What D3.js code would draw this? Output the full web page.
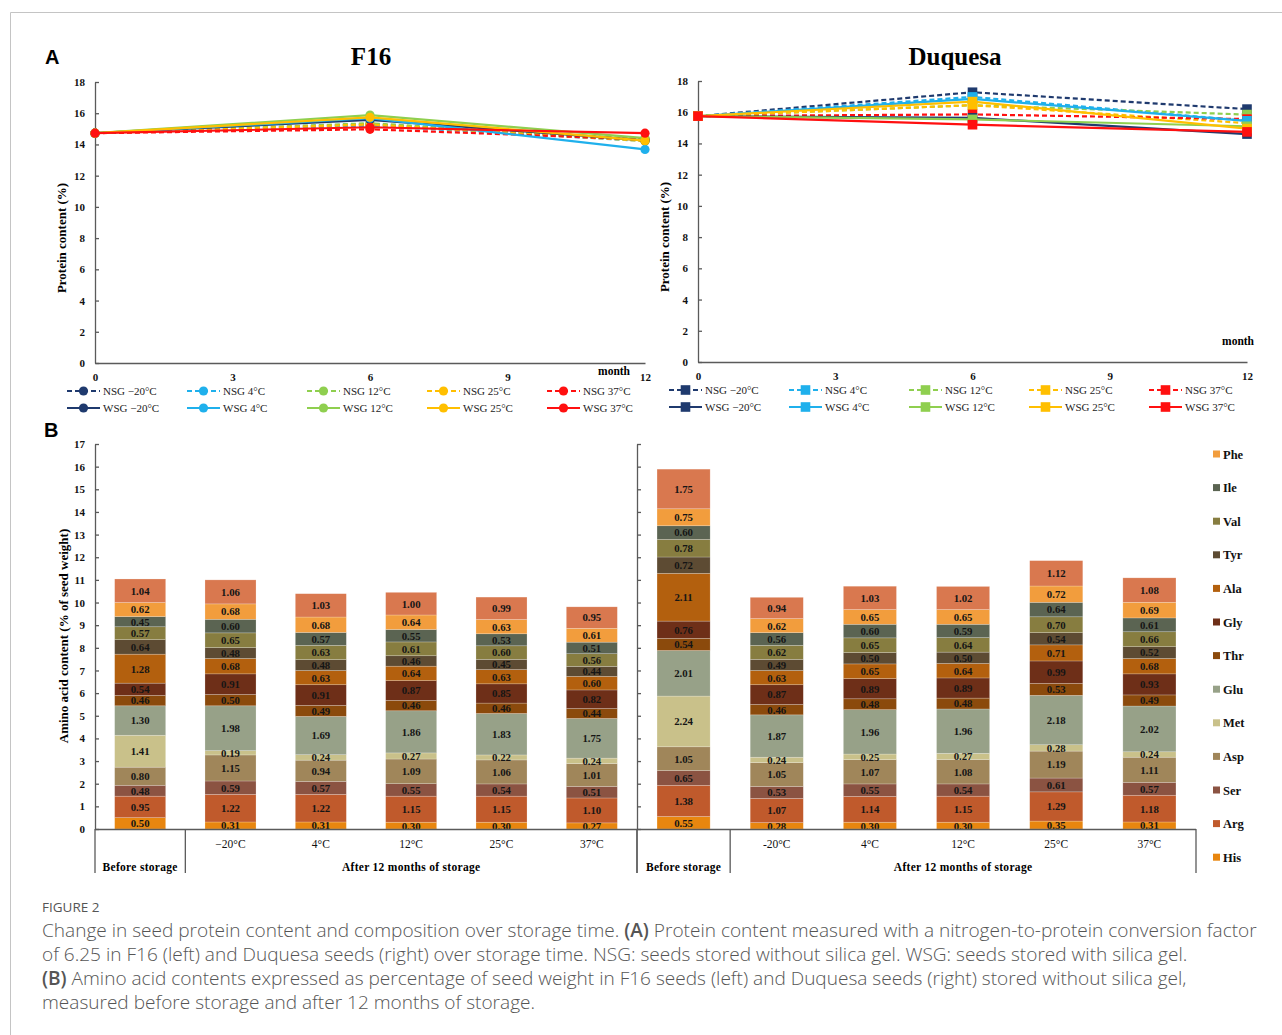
<!DOCTYPE html>
<html>
<head>
<meta charset="utf-8">
<script src="https://cdn.jsdelivr.net/npm/d3@7"></script>
<style>
  body { margin: 0; background: #fff; }
  svg text { font-family: "Liberation Serif", "Times New Roman", serif; }
  .cap { font-family: "Open Sans", "Noto Sans", sans-serif; fill: #555; }
</style>
</head>
<body>
<svg id="fig" width="1282" height="1035"></svg>
<script>
// ---------- Panel A: protein content over storage time ----------
const months = [0, 6, 12];
const monthTicks = [0, 3, 6, 9, 12];
const conditions = ["−20°C", "4°C", "12°C", "25°C", "37°C"];

// F16, rows follow `conditions`, columns follow `months`
const f16Nsg = [
  [14.72, 15.30, 14.30],
  [14.72, 15.20, 14.22],
  [14.72, 15.36, 14.34],
  [14.72, 15.28, 14.22],
  [14.72, 14.97, 14.32]
];
const f16Wsg = [
  [14.72, 15.58, 14.26],
  [14.72, 15.68, 13.68],
  [14.72, 15.88, 14.40],
  [14.72, 15.74, 14.24],
  [14.72, 15.10, 14.72]
];

// Duquesa
const duqNsg = [
  [15.75, 17.28, 16.20],
  [15.75, 16.98, 15.45],
  [15.75, 16.45, 15.85],
  [15.75, 16.45, 15.30],
  [15.75, 15.86, 15.56]
];
const duqWsg = [
  [15.75, 15.64, 14.60],
  [15.75, 16.85, 15.45],
  [15.75, 15.54, 15.10],
  [15.75, 16.68, 14.95],
  [15.75, 15.20, 14.74]
];

const proteinTicks = [0, 2, 4, 6, 8, 10, 12, 14, 16, 18];
const conditionColors = ["#1f3a6e", "#1fb0ec", "#8fcf4f", "#ffbf00", "#ff1010"];

// ---------- Panel B: amino acid composition ----------
// stacking order, bottom to top
const aminoAcids = ["His", "Arg", "Ser", "Asp", "Met", "Glu", "Thr", "Gly", "Ala", "Tyr", "Val", "Ile", "Phe", "Leu"];
const legendAcids = ["Phe", "Ile", "Val", "Tyr", "Ala", "Gly", "Thr", "Glu", "Met", "Asp", "Ser", "Arg", "His"];

const f16Columns = ["Before storage", "−20°C", "4°C", "12°C", "25°C", "37°C"];
const f16Values = [
  [0.50, 0.95, 0.48, 0.80, 1.41, 1.30, 0.46, 0.54, 1.28, 0.64, 0.57, 0.45, 0.62, 1.04],
  [0.31, 1.22, 0.59, 1.15, 0.19, 1.98, 0.50, 0.91, 0.68, 0.48, 0.65, 0.60, 0.68, 1.06],
  [0.31, 1.22, 0.57, 0.94, 0.24, 1.69, 0.49, 0.91, 0.63, 0.48, 0.63, 0.57, 0.68, 1.03],
  [0.30, 1.15, 0.55, 1.09, 0.27, 1.86, 0.46, 0.87, 0.64, 0.46, 0.61, 0.55, 0.64, 1.00],
  [0.30, 1.15, 0.54, 1.06, 0.22, 1.83, 0.46, 0.85, 0.63, 0.45, 0.60, 0.53, 0.63, 0.99],
  [0.27, 1.10, 0.51, 1.01, 0.24, 1.75, 0.44, 0.82, 0.60, 0.44, 0.56, 0.51, 0.61, 0.95]
];

const duqColumns = ["Before storage", "-20°C", "4°C", "12°C", "25°C", "37°C"];
const duqValues = [
  [0.55, 1.38, 0.65, 1.05, 2.24, 2.01, 0.54, 0.76, 2.11, 0.72, 0.78, 0.60, 0.75, 1.75],
  [0.28, 1.07, 0.53, 1.05, 0.24, 1.87, 0.46, 0.87, 0.63, 0.49, 0.62, 0.56, 0.62, 0.94],
  [0.30, 1.14, 0.55, 1.07, 0.25, 1.96, 0.48, 0.89, 0.65, 0.50, 0.65, 0.60, 0.65, 1.03],
  [0.30, 1.15, 0.54, 1.08, 0.27, 1.96, 0.48, 0.89, 0.64, 0.50, 0.64, 0.59, 0.65, 1.02],
  [0.35, 1.29, 0.61, 1.19, 0.28, 2.18, 0.53, 0.99, 0.71, 0.54, 0.70, 0.64, 0.72, 1.12],
  [0.31, 1.18, 0.57, 1.11, 0.24, 2.02, 0.49, 0.93, 0.68, 0.52, 0.66, 0.61, 0.69, 1.08]
];

const aminoTicks = d3.range(0, 18);
const aminoColors = {
  His: "#e8860f", Arg: "#c05a2c", Ser: "#8b5342", Asp: "#a0865a", Met: "#c9c18a",
  Glu: "#97a188", Thr: "#8b4a0c", Gly: "#6e2f18", Ala: "#b3600e", Tyr: "#5d4b33",
  Val: "#877d40", Ile: "#5b6452", Phe: "#f29d3d", Leu: "#d9784f"
};

const svg = d3.select("#fig");
const AXIS = "#5a5a5a";

// page frame
svg.append("path").attr("d", "M10.5,1035 V12.5 H1282").attr("fill", "none").attr("stroke", "#c4c4c4");

// panel letters
svg.append("text").attr("x", 45).attr("y", 64).text("A")
  .style("font-family", "'Liberation Sans', Arial, sans-serif").style("font-weight", "bold").style("font-size", "20px");
svg.append("text").attr("x", 44).attr("y", 437).text("B")
  .style("font-family", "'Liberation Sans', Arial, sans-serif").style("font-weight", "bold").style("font-size", "20px");

function linePanel(o) {
  const g = svg.append("g");
  const x = d3.scaleLinear().domain([0, 12]).range([o.left, o.right]);
  const y = d3.scaleLinear().domain([0, 18]).range([o.bottom, o.top]);

  const ya = g.append("g").attr("transform", `translate(${o.left},0)`)
    .call(d3.axisLeft(y).tickValues(proteinTicks).tickSize(-4).tickSizeOuter(0).tickPadding(10));
  const xa = g.append("g").attr("transform", `translate(0,${o.bottom})`)
    .call(d3.axisBottom(x).tickValues(monthTicks).tickSize(0).tickPadding(10));
  [ya, xa].forEach(a => {
    a.selectAll("path,line").attr("stroke", AXIS).attr("stroke-width", 1.3);
    a.selectAll("text").style("font-size", "11px").style("font-weight", "bold").attr("fill", "#111")
      .style("font-family", "'Liberation Serif', serif");
  });

  g.append("text").attr("x", o.titleX).attr("y", 65).attr("text-anchor", "middle")
    .style("font-size", "25px").style("font-weight", "bold").text(o.title);

  g.append("text").attr("transform", `translate(${o.left - 29},${o.labelY}) rotate(-90)`)
    .attr("text-anchor", "middle").style("font-size", "13px").style("font-weight", "bold")
    .text("Protein content (%)");

  g.append("text").attr("x", o.monthX).attr("y", o.monthY).attr("text-anchor", "end")
    .style("font-size", "11.5px").style("font-weight", "bold").text("month");

  const line = d3.line().x((d, i) => x(months[i])).y(d => y(d));

  const drawMarker = (sel, cx, cy, color) => {
    if (o.marker === "circle") {
      sel.append("circle").attr("cx", cx).attr("cy", cy).attr("r", 4.6).attr("fill", color);
    } else {
      sel.append("rect").attr("x", cx - 4.8).attr("y", cy - 4.8).attr("width", 9.6).attr("height", 9.6).attr("fill", color);
    }
  };

  const groups = [
    { vals: o.nsg, dash: "5,3", prefix: "NSG " },
    { vals: o.wsg, dash: null, prefix: "WSG " }
  ];
  groups.forEach(grp => {
    grp.vals.forEach((vals, i) => {
      const c = conditionColors[i];
      g.append("path").datum(vals).attr("d", line).attr("fill", "none")
        .attr("stroke", c).attr("stroke-width", 2.2)
        .attr("stroke-dasharray", grp.dash);
      vals.forEach((v, j) => drawMarker(g, x(months[j]), y(v), c));
    });
  });

  // legend: NSG row (dashed) then WSG row (solid)
  groups.forEach((grp, r) => {
    const ly = o.legendY + r * 17;
    conditions.forEach((cond, i) => {
      const lx = o.legendX + i * 120;
      const c = conditionColors[i];
      g.append("line").attr("x1", lx).attr("x2", lx + 33).attr("y1", ly).attr("y2", ly)
        .attr("stroke", c).attr("stroke-width", 2.2).attr("stroke-dasharray", grp.dash);
      drawMarker(g, lx + 16.5, ly, c);
      g.append("text").attr("x", lx + 36).attr("y", ly + 4).style("font-size", "11px")
        .attr("fill", "#222").text(grp.prefix + cond);
    });
  });
}

linePanel({ left: 95, right: 645, top: 82, bottom: 363, title: "F16", titleX: 371, labelY: 238,
  nsg: f16Nsg, wsg: f16Wsg, marker: "circle", legendX: 67, legendY: 391, monthX: 630, monthY: 375 });
linePanel({ left: 698, right: 1247, top: 81, bottom: 362, title: "Duquesa", titleX: 955, labelY: 237,
  nsg: duqNsg, wsg: duqWsg, marker: "square", legendX: 669, legendY: 390, monthX: 1254, monthY: 345 });

// ---------- Panel B drawing ----------
const yB = d3.scaleLinear().domain([0, 17]).range([829, 444]);
const fmt = d3.format(".2f");
const B_BOTTOM = 873;

const yAxisB = svg.append("g").attr("transform", "translate(95,0)")
  .call(d3.axisLeft(yB).tickValues(aminoTicks).tickSize(-4).tickSizeOuter(0).tickPadding(10));
yAxisB.selectAll("path,line").attr("stroke", AXIS).attr("stroke-width", 1.3);
yAxisB.selectAll("text").style("font-size", "11px").style("font-weight", "bold").attr("fill", "#111")
  .style("font-family", "'Liberation Serif', serif");

const yAxisB2 = svg.append("g").attr("transform", "translate(637,0)")
  .call(d3.axisLeft(yB).tickValues(aminoTicks).tickSize(-4).tickSizeOuter(0).tickFormat(""));
yAxisB2.selectAll("path,line").attr("stroke", AXIS).attr("stroke-width", 1.3);

svg.append("text").attr("transform", `translate(68,636) rotate(-90)`).attr("text-anchor", "middle")
  .style("font-size", "13px").style("font-weight", "bold").text("Amino acid content (% of seed weight)");

function barPanel(columns, values, left, right, inner) {
  const g = svg.append("g");
  const x = d3.scaleBand().domain(columns).range([left, right]).paddingInner(inner).paddingOuter(inner / 2);
  const rows = columns.map((c, i) => {
    const r = { col: c };
    aminoAcids.forEach((a, k) => { r[a] = values[i][k]; });
    return r;
  });
  const stacked = d3.stack().keys(aminoAcids)(rows);

  stacked.forEach(s => {
    const sg = g.append("g");
    sg.selectAll("rect").data(s).join("rect")
      .attr("x", d => x(d.data.col)).attr("width", x.bandwidth())
      .attr("y", d => yB(d[1])).attr("height", d => yB(d[0]) - yB(d[1]))
      .attr("fill", aminoColors[s.key])
      .attr("stroke", "#fff").attr("stroke-opacity", 0.35).attr("stroke-width", 0.6);
  });
  stacked.forEach(s => {
    g.append("g").selectAll("text").data(s).join("text")
      .attr("x", d => x(d.data.col) + x.bandwidth() / 2)
      .attr("y", d => (yB(d[0]) + yB(d[1])) / 2 + 3.9)
      .attr("text-anchor", "middle").style("font-size", "10.8px").style("font-weight", "bold")
      .attr("fill", "#151515")
      .text(d => fmt(d[1] - d[0]));
  });

  // baseline and category frame
  g.append("line").attr("x1", left).attr("x2", right).attr("y1", 829.5).attr("y2", 829.5)
    .attr("stroke", AXIS).attr("stroke-width", 1.3);
  const sep = left + x.step();
  [sep, right].forEach(px => g.append("line").attr("x1", px).attr("x2", px).attr("y1", 829).attr("y2", B_BOTTOM)
    .attr("stroke", AXIS).attr("stroke-width", 1.3));
  g.append("line").attr("x1", left).attr("x2", left).attr("y1", 829).attr("y2", B_BOTTOM)
    .attr("stroke", AXIS).attr("stroke-width", 1.3);

  columns.slice(1).forEach(c => {
    g.append("text").attr("x", x(c) + x.bandwidth() / 2).attr("y", 848).attr("text-anchor", "middle")
      .style("font-size", "11.5px").attr("fill", "#111").text(c);
  });
  g.append("text").attr("x", x(columns[0]) + x.bandwidth() / 2).attr("y", 871).attr("text-anchor", "middle")
    .style("font-size", "11.5px").style("font-weight", "bold").style("letter-spacing", "0.3px").text(columns[0]);
  g.append("text").attr("x", (sep + right) / 2).attr("y", 871).attr("text-anchor", "middle")
    .style("font-size", "11.5px").style("font-weight", "bold").style("letter-spacing", "0.3px")
    .text("After 12 months of storage");
}

barPanel(f16Columns, f16Values, 95, 637, 0.435);
barPanel(duqColumns, duqValues, 637, 1196, 0.43);

// amino acid legend
const lg = svg.append("g");
legendAcids.forEach((a, i) => {
  const ly = 454 + i * 33.6;
  lg.append("rect").attr("x", 1213).attr("y", ly - 3.5).attr("width", 7).attr("height", 7).attr("fill", aminoColors[a]);
  lg.append("text").attr("x", 1223).attr("y", ly + 4.5).style("font-size", "12.5px").style("font-weight", "bold")
    .attr("fill", "#111").text(a);
});

// ---------- caption ----------
svg.append("text").attr("class", "cap").attr("x", 42).attr("y", 912)
  .style("font-size", "13.5px").style("font-family", "'Open Sans', sans-serif").attr("fill", "#555").text("FIGURE 2");

const capLines = [
  [["Change in seed protein content and composition over storage time. ", false], ["(A)", true],
   [" Protein content measured with a nitrogen-to-protein conversion factor", false]],
  [["of 6.25 in F16 (left) and Duquesa seeds (right) over storage time. NSG: seeds stored without silica gel. WSG: seeds stored with silica gel.", false]],
  [["(B)", true], [" Amino acid contents expressed as percentage of seed weight in F16 seeds (left) and Duquesa seeds (right) stored without silica gel,", false]],
  [["measured before storage and after 12 months of storage.", false]]
];
const capTexts = capLines.map((parts, i) => {
  const t = svg.append("text").attr("class", "cap").attr("x", 42).attr("y", 937 + i * 24)
    .style("font-size", "17px").style("font-weight", "300").style("font-family", "'Open Sans', sans-serif");
  parts.forEach(([s, b]) => t.append("tspan").style("font-weight", b ? "600" : "300").text(s));
  return t;
});
// size the caption so the second line spans its usual block width
const natural = capTexts[1].node().getComputedTextLength();
const fs = 17 * 1146 / natural;
capTexts.forEach(t => t.style("font-size", fs + "px"));
</script>
</body>
</html>
